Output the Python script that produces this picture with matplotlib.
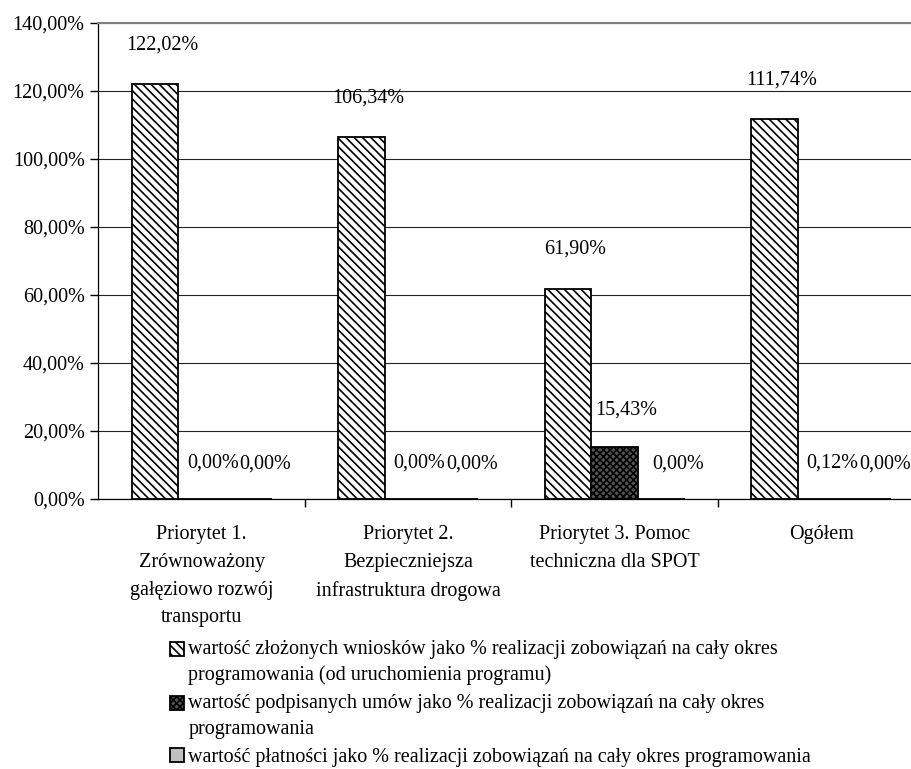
import numpy as np
import matplotlib
matplotlib.use("Agg")
import matplotlib.pyplot as plt
from matplotlib.patches import Rectangle
from matplotlib.legend_handler import HandlerPatch, update_from_first_child

categories = ["Priorytet 1.\nZrównoważony\ngałęziowo rozwój\ntransportu",
              "Priorytet 2.\nBezpieczniejsza\ninfrastruktura drogowa",
              "Priorytet 3. Pomoc\ntechniczna dla SPOT",
              "Ogółem"]
wnioski = [122.02, 106.34, 61.90, 111.74]
umowy = [0.00, 0.00, 15.43, 0.12]
platnosci = [0.00, 0.00, 0.00, 0.00]
series_names = ["wartość złożonych wniosków jako % realizacji zobowiązań na cały okres\nprogramowania (od uruchomienia programu)",
                "wartość podpisanych umów jako % realizacji zobowiązań na cały okres\nprogramowania",
                "wartość płatności jako % realizacji zobowiązań na cały okres programowania"]
yticks = [0, 20, 40, 60, 80, 100, 120, 140]

def pct(v):
    return f"{v:.2f}".replace(".", ",") + "%"

plt.rcParams["font.family"] = ["Liberation Serif", "DejaVu Serif"]
plt.rcParams["font.size"] = 14.5
plt.rcParams["hatch.linewidth"] = 1.2

W, H = 912, 769
fig = plt.figure(figsize=(W / 100, H / 100), dpi=100)
# plot area runs a bit past the right edge of the canvas
ax = fig.add_axes([98.5 / W, (H - 499) / H, 826 / W, 476 / H])

x = np.arange(len(categories))
bw = 0.226
styles = [dict(facecolor="white", hatch="\\\\\\\\"),
          dict(facecolor="#555555", hatch="xxxxx"),
          dict(facecolor="#c0c0c0", hatch=None)]
label_off = [(7, 39), (11, 36), (17, 35)]
handles = []
for i, vals in enumerate([wnioski, umowy, platnosci]):
    bars = ax.bar(x + (i - 1) * bw, vals, bw, edgecolor="black", linewidth=1.3,
                  zorder=3, **styles[i])
    handles.append(bars)
    for b, v in zip(bars, vals):
        ax.annotate(pct(v), (b.get_x() + b.get_width() / 2, v),
                    xytext=label_off[i], textcoords="offset pixels",
                    ha="center", va="center", zorder=4)

ax.set_xlim(-0.5, 3.5)
ax.set_ylim(0, 140)
ax.set_yticks(yticks)
ax.set_yticklabels([pct(v) for v in yticks])
ax.set_xticks(x + 0.5, minor=False)
ax.set_xticklabels([])
ax.set_xticks(x, minor=True)
ax.set_xticklabels(categories, minor=True, linespacing=1.62)
ax.tick_params(axis="x", which="minor", length=0, pad=19)
ax.tick_params(axis="x", which="major", length=6, width=1, direction="out")
ax.tick_params(axis="y", length=6, width=1, pad=4)
ax.yaxis.grid(True, color="#222222", linewidth=0.8, zorder=0)
ax.set_axisbelow(True)

ax.spines["right"].set_visible(False)
ax.spines["top"].set_color("#808080")
ax.spines["top"].set_linewidth(1.5)
ax.spines["left"].set_linewidth(0.9)
ax.spines["bottom"].set_linewidth(0.9)


def key_box(shift):
    # legend key that sits level with the first line of its label
    def make(legend, orig_handle, xdescent, ydescent, width, height, fontsize):
        return Rectangle((-xdescent, -ydescent + shift), width, height)
    return HandlerPatch(patch_func=make, update_func=update_from_first_child)


shifts = [9.7 * name.count("\n") for name in series_names]
leg = fig.legend(handles, series_names, loc="upper left",
                 bbox_to_anchor=(160 / W, (H - 630) / H), frameon=False,
                 borderpad=0, handlelength=0.7, handleheight=0.7,
                 handletextpad=0.2, labelspacing=0.45, fontsize=14.5,
                 handler_map={h: key_box(s) for h, s in zip(handles, shifts)})
for t in leg.get_texts():
    t.set_linespacing(1.45)

fig.savefig("out.png", dpi=100)
